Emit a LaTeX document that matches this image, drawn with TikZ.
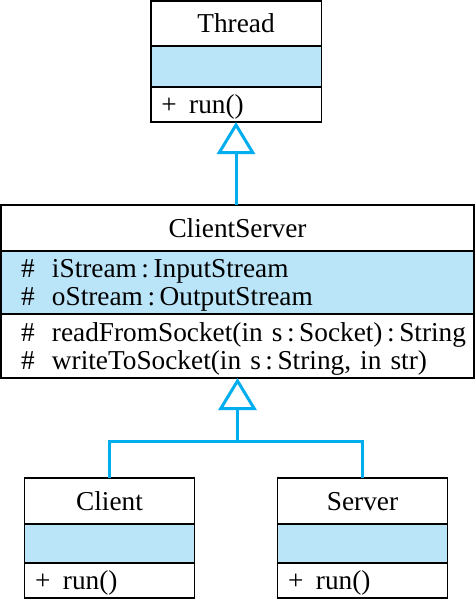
\documentclass[tikz,border=0pt]{standalone}
\usepackage{fontspec}
\setmainfont{Liberation Serif}
\usetikzlibrary{positioning, arrows.meta}
\definecolor{umlblue}{RGB}{0,174,239}
\definecolor{umlfill}{RGB}{186,228,248}
\newcommand{\umlfont}{\fontsize{27.3}{28.5}\selectfont}
\newcommand{\member}[3][31pt]{\mbox{\makebox[#1][l]{#2}#3}}
\begin{document}
\begin{tikzpicture}[x=1pt, y=-1pt,
  part/.style={draw, line width=1.5pt, rectangle, inner sep=0pt, outer sep=0pt, font=\umlfont, text depth=0pt},
  attrs/.style={part, fill=umlfill},
  members/.style={part, align=left, text width=#1},
  inherit/.style={draw=umlblue, line width=3pt, -{Triangle[length=32pt, width=38pt, fill=white]}},
  link/.style={draw=umlblue, line width=3pt}]
\useasboundingbox (0,0) rectangle (475,600);

\node (threadname)[part, minimum width=170.5pt, minimum height=45pt] at (236, 23.5) {Thread};
\node (threadattr)[attrs, minimum width=170.5pt, minimum height=41pt, below=0pt of threadname] {};
\node (threadops)[members=149.5pt, inner xsep=10.5pt, minimum height=35pt, below=0pt of threadattr] {\member[28pt]{+}{run()}};

\node (csname)[part, minimum width=473pt, minimum height=46pt] at (237.5, 228) {ClientServer};
\node (csattr)[members=433pt, fill=umlfill, inner xsep=20pt, text depth=28.5pt, minimum height=63pt, below=0pt of csname]
  {\member{\#}{iStream\,:\,InputStream}\\ \member{\#}{oStream\,:\,OutputStream}};
\node (csops)[members=433pt, inner xsep=20pt, text depth=28.5pt, minimum height=64pt, below=0pt of csattr]
  {\member{\#}{readFromSocket(in s\,:\,Socket)\,:\,String}\\ \member{\#}{writeToSocket(in s\,:\,String, in str)}};

\node (clientname)[part, minimum width=170pt, minimum height=46pt] at (109.5, 501) {Client};
\node (clientattr)[attrs, minimum width=170pt, minimum height=39pt, below=0pt of clientname] {};
\node (clientops)[members=149pt, inner xsep=10.5pt, minimum height=35pt, below=0pt of clientattr] {\member[28pt]{+}{run()}};

\node (servername)[part, minimum width=170pt, minimum height=46pt] at (362.5, 501) {Server};
\node (serverattr)[attrs, minimum width=170pt, minimum height=39pt, below=0pt of servername] {};
\node (serverops)[members=149pt, inner xsep=10.5pt, minimum height=35pt, below=0pt of serverattr] {\member[28pt]{+}{run()}};

\coordinate (join) at (237.5, 441);
\draw[inherit] (csname.north -| threadops.south) -- (threadops.south);
\draw[inherit] (join) -- (csops.south);
\draw[link] (clientname.north) |- (join) -| (servername.north);
\end{tikzpicture}
\end{document}
